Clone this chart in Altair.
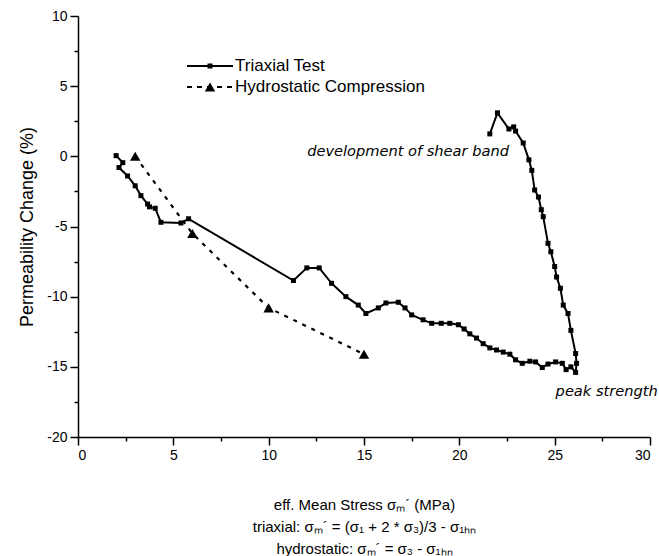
import altair as alt
import pandas as pd

# ---- data ----
series = ["Triaxial Test", "Hydrostatic Compression"]

tri_x = [2.0, 2.35, 2.15, 2.6, 3.0, 3.3, 3.65, 3.75, 4.05, 4.35, 5.4, 5.8,
         11.3, 12.0, 12.65, 13.3, 14.05, 14.7, 15.1, 15.75, 16.15, 16.8, 17.15,
         17.5, 18.1, 18.55, 19.05, 19.5, 19.95, 20.25, 20.55, 20.9, 21.25, 21.6,
         21.95, 22.3, 22.65, 22.95, 23.3, 23.7, 24.0, 24.35, 24.65, 25.05, 25.4,
         25.6, 25.85, 26.1, 26.15, 26.1, 25.85, 25.7, 25.45, 25.3, 25.1, 25.0,
         24.8, 24.65, 24.4, 24.3, 24.15, 23.95, 23.8, 23.65, 23.35, 22.95, 22.85,
         22.6, 22.0, 21.6]
tri_y = [0.05, -0.45, -0.8, -1.4, -2.1, -2.8, -3.4, -3.6, -3.7, -4.7, -4.75, -4.45,
         -8.85, -7.95, -7.95, -9.05, -10.0, -10.6, -11.2, -10.8, -10.45, -10.4, -10.8,
         -11.3, -11.65, -11.9, -11.9, -11.9, -12.0, -12.3, -12.65, -12.95, -13.35, -13.65,
         -13.8, -13.95, -14.1, -14.5, -14.75, -14.6, -14.65, -15.05, -14.8, -14.65, -14.75,
         -15.2, -15.0, -15.4, -14.75, -14.05, -12.4, -11.2, -10.6, -9.4, -8.6, -7.85,
         -6.8, -6.2, -4.3, -3.8, -2.9, -2.4, -1.0, -0.25, 0.95, 1.8, 2.1,
         1.95, 3.1, 1.6]

hyd_x = [3.0, 6.0, 10.0, 15.0]
hyd_y = [0.0, -5.5, -10.8, -14.1]

x_ticks = [0, 2.5, 5, 7.5, 10, 12.5, 15, 17.5, 20, 22.5, 25, 27.5, 30]
y_ticks = [-20, -17.5, -15, -12.5, -10, -7.5, -5, -2.5, 0, 2.5, 5, 7.5, 10]

ann_text = ["development of shear band", "peak strength"]
ann_x = [22.6, 25.05]
ann_y = [0.3, -16.8]

x_title = ["eff. Mean Stress σₘ´ (MPa)",
           "triaxial: σₘ´ = (σ₁ + 2 * σ₃)/3 - σ₁ₕₙ",
           "hydrostatic: σₘ´ = σ₃ - σ₁ₕₙ"]
y_title = "Permeability Change (%)"

# ---- tables ----
tri = pd.DataFrame({"x": tri_x, "y": tri_y, "idx": list(range(len(tri_x)))})
hyd = pd.DataFrame({"x": hyd_x, "y": hyd_y, "idx": list(range(len(hyd_x)))})
ann_r = pd.DataFrame({"x": [ann_x[0]], "y": [ann_y[0]], "t": [ann_text[0]]})
ann_l = pd.DataFrame({"x": [ann_x[1]], "y": [ann_y[1]], "t": [ann_text[1]]})
leg1 = pd.DataFrame({"t": [series[0]]})
leg2 = pd.DataFrame({"t": [series[1]]})

tick_cond = {"condition": {"test": "datum.value % 5 === 0", "value": 8}, "value": 4}
lab_expr = "datum.value % 5 === 0 ? '' + datum.value : ''"

X = alt.X("x:Q",
          scale=alt.Scale(domain=[0, 30], nice=False, zero=False),
          axis=alt.Axis(values=x_ticks, labelExpr=lab_expr, tickSize=tick_cond,
                        title=x_title, titlePadding=35, titleLineHeight=22,
                        titleFontSize=15, labelPadding=3))
Y = alt.Y("y:Q",
          scale=alt.Scale(domain=[-20, 10], nice=False, zero=False),
          axis=alt.Axis(values=y_ticks, labelExpr=lab_expr, tickSize=tick_cond,
                        title=y_title, titlePadding=10, titleFontSize=18,
                        labelPadding=3))

tri_line = alt.Chart(tri).mark_line(color="black", strokeWidth=2).encode(
    x=X, y=Y, order="idx:Q")
tri_pts = alt.Chart(tri).mark_point(shape="square", filled=True, size=25,
                                    color="black", opacity=1).encode(x=X, y=Y)
hyd_line = alt.Chart(hyd).mark_line(color="black", strokeWidth=2.2,
                                    strokeDash=[4, 6]).encode(x=X, y=Y, order="idx:Q")
hyd_pts = alt.Chart(hyd).mark_point(shape="triangle-up", filled=True, size=110,
                                    color="black", opacity=1).encode(x=X, y=Y)

ann1 = alt.Chart(ann_r).mark_text(align="right", baseline="middle", fontStyle="italic",
                                  font="DejaVu Sans", fontSize=14.6, color="black").encode(
    x=X, y=Y, text="t:N")
ann2 = alt.Chart(ann_l).mark_text(align="left", baseline="middle", fontStyle="italic",
                                  font="DejaVu Sans", fontSize=14.6, color="black").encode(
    x=X, y=Y, text="t:N")

# legend (drawn by hand, top-left inside the plot)
lg1_line = alt.Chart(leg1).mark_rule(color="black", strokeWidth=2).encode(
    x=alt.value(109), x2=alt.value(155), y=alt.value(50))
lg1_pt = alt.Chart(leg1).mark_point(shape="square", filled=True, size=25,
                                    color="black", opacity=1).encode(
    x=alt.value(132), y=alt.value(50))
lg1_txt = alt.Chart(leg1).mark_text(align="left", baseline="middle", fontSize=17,
                                    font="Liberation Sans", color="black").encode(
    x=alt.value(157), y=alt.value(50), text="t:N")
lg2_line = alt.Chart(leg2).mark_rule(color="black", strokeWidth=2, strokeDash=[5, 5]).encode(
    x=alt.value(109), x2=alt.value(155), y=alt.value(71))
lg2_pt = alt.Chart(leg2).mark_point(shape="triangle-up", filled=True, size=110,
                                    color="black", opacity=1).encode(
    x=alt.value(132), y=alt.value(71))
lg2_txt = alt.Chart(leg2).mark_text(align="left", baseline="middle", fontSize=17,
                                    font="Liberation Sans", color="black").encode(
    x=alt.value(157), y=alt.value(71), text="t:N")

chart = alt.layer(
    tri_line, tri_pts, hyd_line, hyd_pts, ann1, ann2,
    lg1_line, lg1_pt, lg1_txt, lg2_line, lg2_pt, lg2_txt
).properties(
    width=572, height=421,
    padding={"left": 78, "top": 16, "right": 9, "bottom": 119},
    autosize="none",
    background="white",
).configure_view(stroke=None).configure_axis(
    domainColor="black", domainWidth=1.5, tickColor="black", tickWidth=1.5,
    labelColor="black", labelFont="Liberation Sans", labelFontSize=14,
    titleColor="black", titleFont="Liberation Sans", titleFontWeight="normal",
    grid=False,
)

chart.save("out.html", embed_options={"renderer": "svg", "actions": False})
